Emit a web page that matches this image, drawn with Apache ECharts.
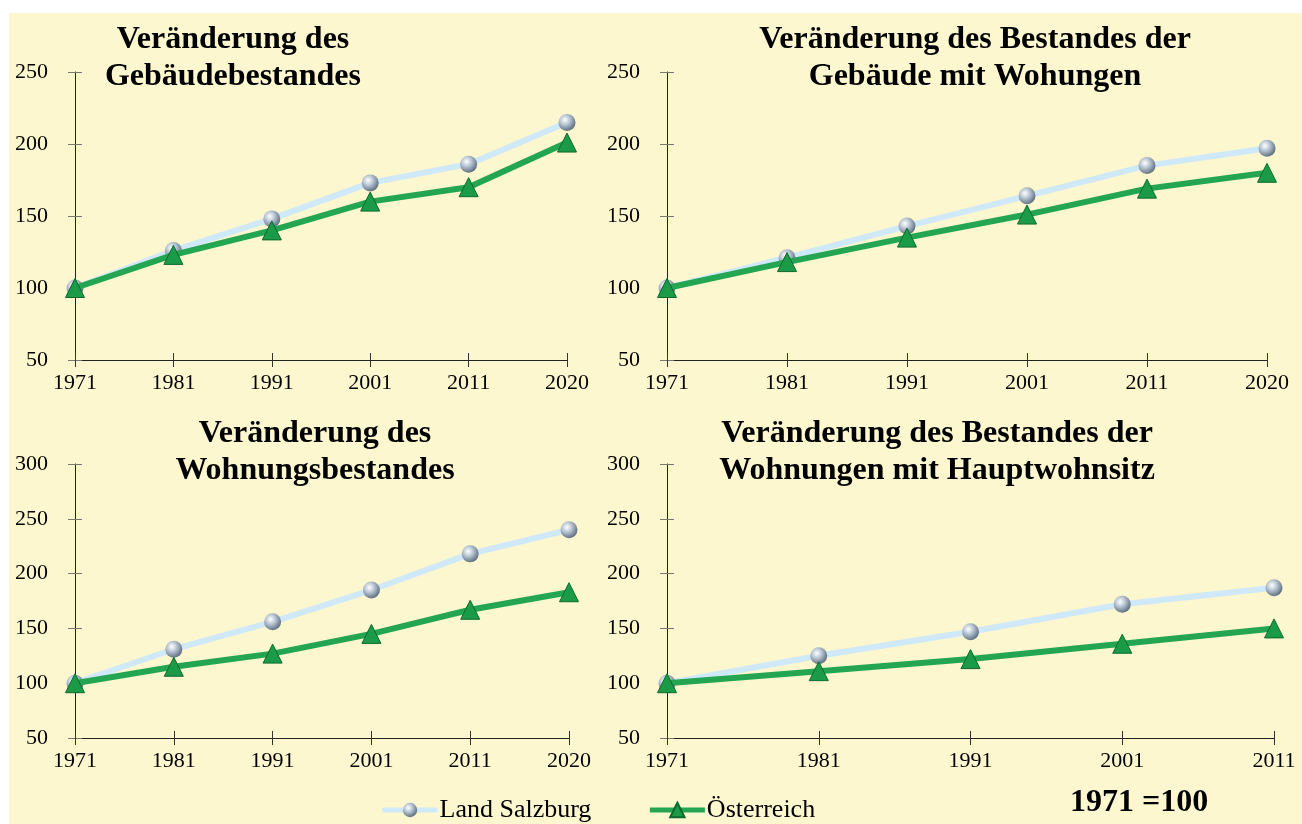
<!DOCTYPE html>
<html><head><meta charset="utf-8">
<script src="https://cdn.jsdelivr.net/npm/echarts@6/dist/echarts.min.js"></script>
<style>html,body{margin:0;padding:0;background:#fff;}#c{width:1302px;height:824px;}</style>
</head><body><div id="c"></div>
<script>
const years6 = ['1971','1981','1991','2001','2011','2020'];
const years5 = ['1971','1981','1991','2001','2011'];
const gebLS = [100,126,148,173,186,215];
const gebAT = [100,123,140,160,170,201];
const gwLS  = [100,121,143,164,185,197];
const gwAT  = [100,118,135,151,169,180];
const wohLS = [100,131,156,185,218,240];
const wohAT = [100,115,127,145,167,183];
const hwsLS = [100,125,147,172,187];
const hwsAT = [100,111,122,136,150];
const titles = ['Veränderung des\nGebäudebestandes','Veränderung des Bestandes der\nGebäude mit Wohungen','Veränderung des\nWohnungsbestandes','Veränderung des Bestandes der\nWohnungen mit Hauptwohnsitz'];
const nameLS = 'Land Salzburg', nameAT = 'Österreich';
const baseNote = '1971 =100';

const serif = '"Liberation Serif","Times New Roman",serif';
const chart = echarts.init(document.getElementById('c'));
const grids = [
  {left:75, top:72, width:492, height:288},
  {left:667, top:72, width:600, height:288},
  {left:75, top:464, width:494, height:274},
  {left:667, top:464, width:607, height:274}
];
const cats = [years6, years6, years6, years5];
const ymax = [250,250,300,300];
const dataLS = [gebLS, gwLS, wohLS, hwsLS];
const dataAT = [gebAT, gwAT, wohAT, hwsAT];
const titlePos = [[228,16],[970,16],[310,410],[932,410]];

const sphere = {type:'radial',x:0.38,y:0.35,r:0.7,colorStops:[{offset:0,color:'#ffffff'},{offset:0.35,color:'#c3cfdb'},{offset:1,color:'#56677a'}]};
const xAxes = [], yAxes = [], series = [], titleArr = [];
for (let i=0;i<4;i++){
  xAxes.push({type:'category', gridIndex:i, data:cats[i], boundaryGap:false,
    axisLine:{lineStyle:{color:'#222',width:1}},
    axisTick:{show:true,length:7,lineStyle:{color:'#333'}},
    axisLabel:{color:'#000',fontFamily:serif,fontSize:22,margin:12}});
  xAxes.push({type:'category', gridIndex:i, data:cats[i], boundaryGap:false, position:'bottom',
    axisLine:{show:false}, axisLabel:{show:false},
    axisTick:{show:true,inside:true,length:7,lineStyle:{color:'#333'}}});
  yAxes.push({type:'value', gridIndex:i, min:50, max:ymax[i], interval:50,
    axisLine:{show:true,lineStyle:{color:'#222',width:1}},
    axisTick:{show:true,length:7,lineStyle:{color:'#777'}},
    splitLine:{show:false},
    axisLabel:{color:'#000',fontFamily:serif,fontSize:22,margin:27}});
  yAxes.push({type:'value', gridIndex:i, min:50, max:ymax[i], interval:50, position:'left',
    axisLine:{show:false}, axisLabel:{show:false}, splitLine:{show:false},
    axisTick:{show:true,inside:true,length:7,lineStyle:{color:'#777'}}});
  series.push({name:nameLS, type:'line', xAxisIndex:2*i, yAxisIndex:2*i, data:dataLS[i],
    symbol:'circle', symbolSize:17, z:2,
    lineStyle:{color:'#cfe9f8',width:6},
    itemStyle:{color:sphere, borderWidth:0}});
  series.push({name:nameAT, type:'line', xAxisIndex:2*i, yAxisIndex:2*i, data:dataAT[i],
    symbol:'triangle', symbolSize:19, z:3,
    lineStyle:{color:'#23a552',width:6},
    itemStyle:{color:'#1b9a48',borderColor:'#0c6a2c',borderWidth:1}});
  titleArr.push({text:titles[i], left:titlePos[i][0], top:titlePos[i][1], textAlign:'center',
    textStyle:{fontFamily:serif,fontWeight:'bold',fontSize:32,lineHeight:37,color:'#000'}});
}

chart.setOption({
  backgroundColor:'#ffffff',
  animation:false,
  graphic:[
    {type:'rect', shape:{x:9,y:13,width:1293,height:811}, style:{fill:'#fdf7cf'}, z:-10, silent:true},
    {type:'text', left:1070, top:787, style:{text:baseNote, font:'bold 32px '+serif, fill:'#000'}}
  ],
  title:titleArr,
  legend:{data:[nameLS,nameAT], left:375, top:792, itemWidth:55, itemHeight:18, itemGap:56,
    lineStyle:{width:5},
    textStyle:{fontFamily:serif,fontSize:26,color:'#000',padding:[0,0,0,-3]}},
  grid:grids,
  xAxis:xAxes,
  yAxis:yAxes,
  series:series
});
</script></body></html>
